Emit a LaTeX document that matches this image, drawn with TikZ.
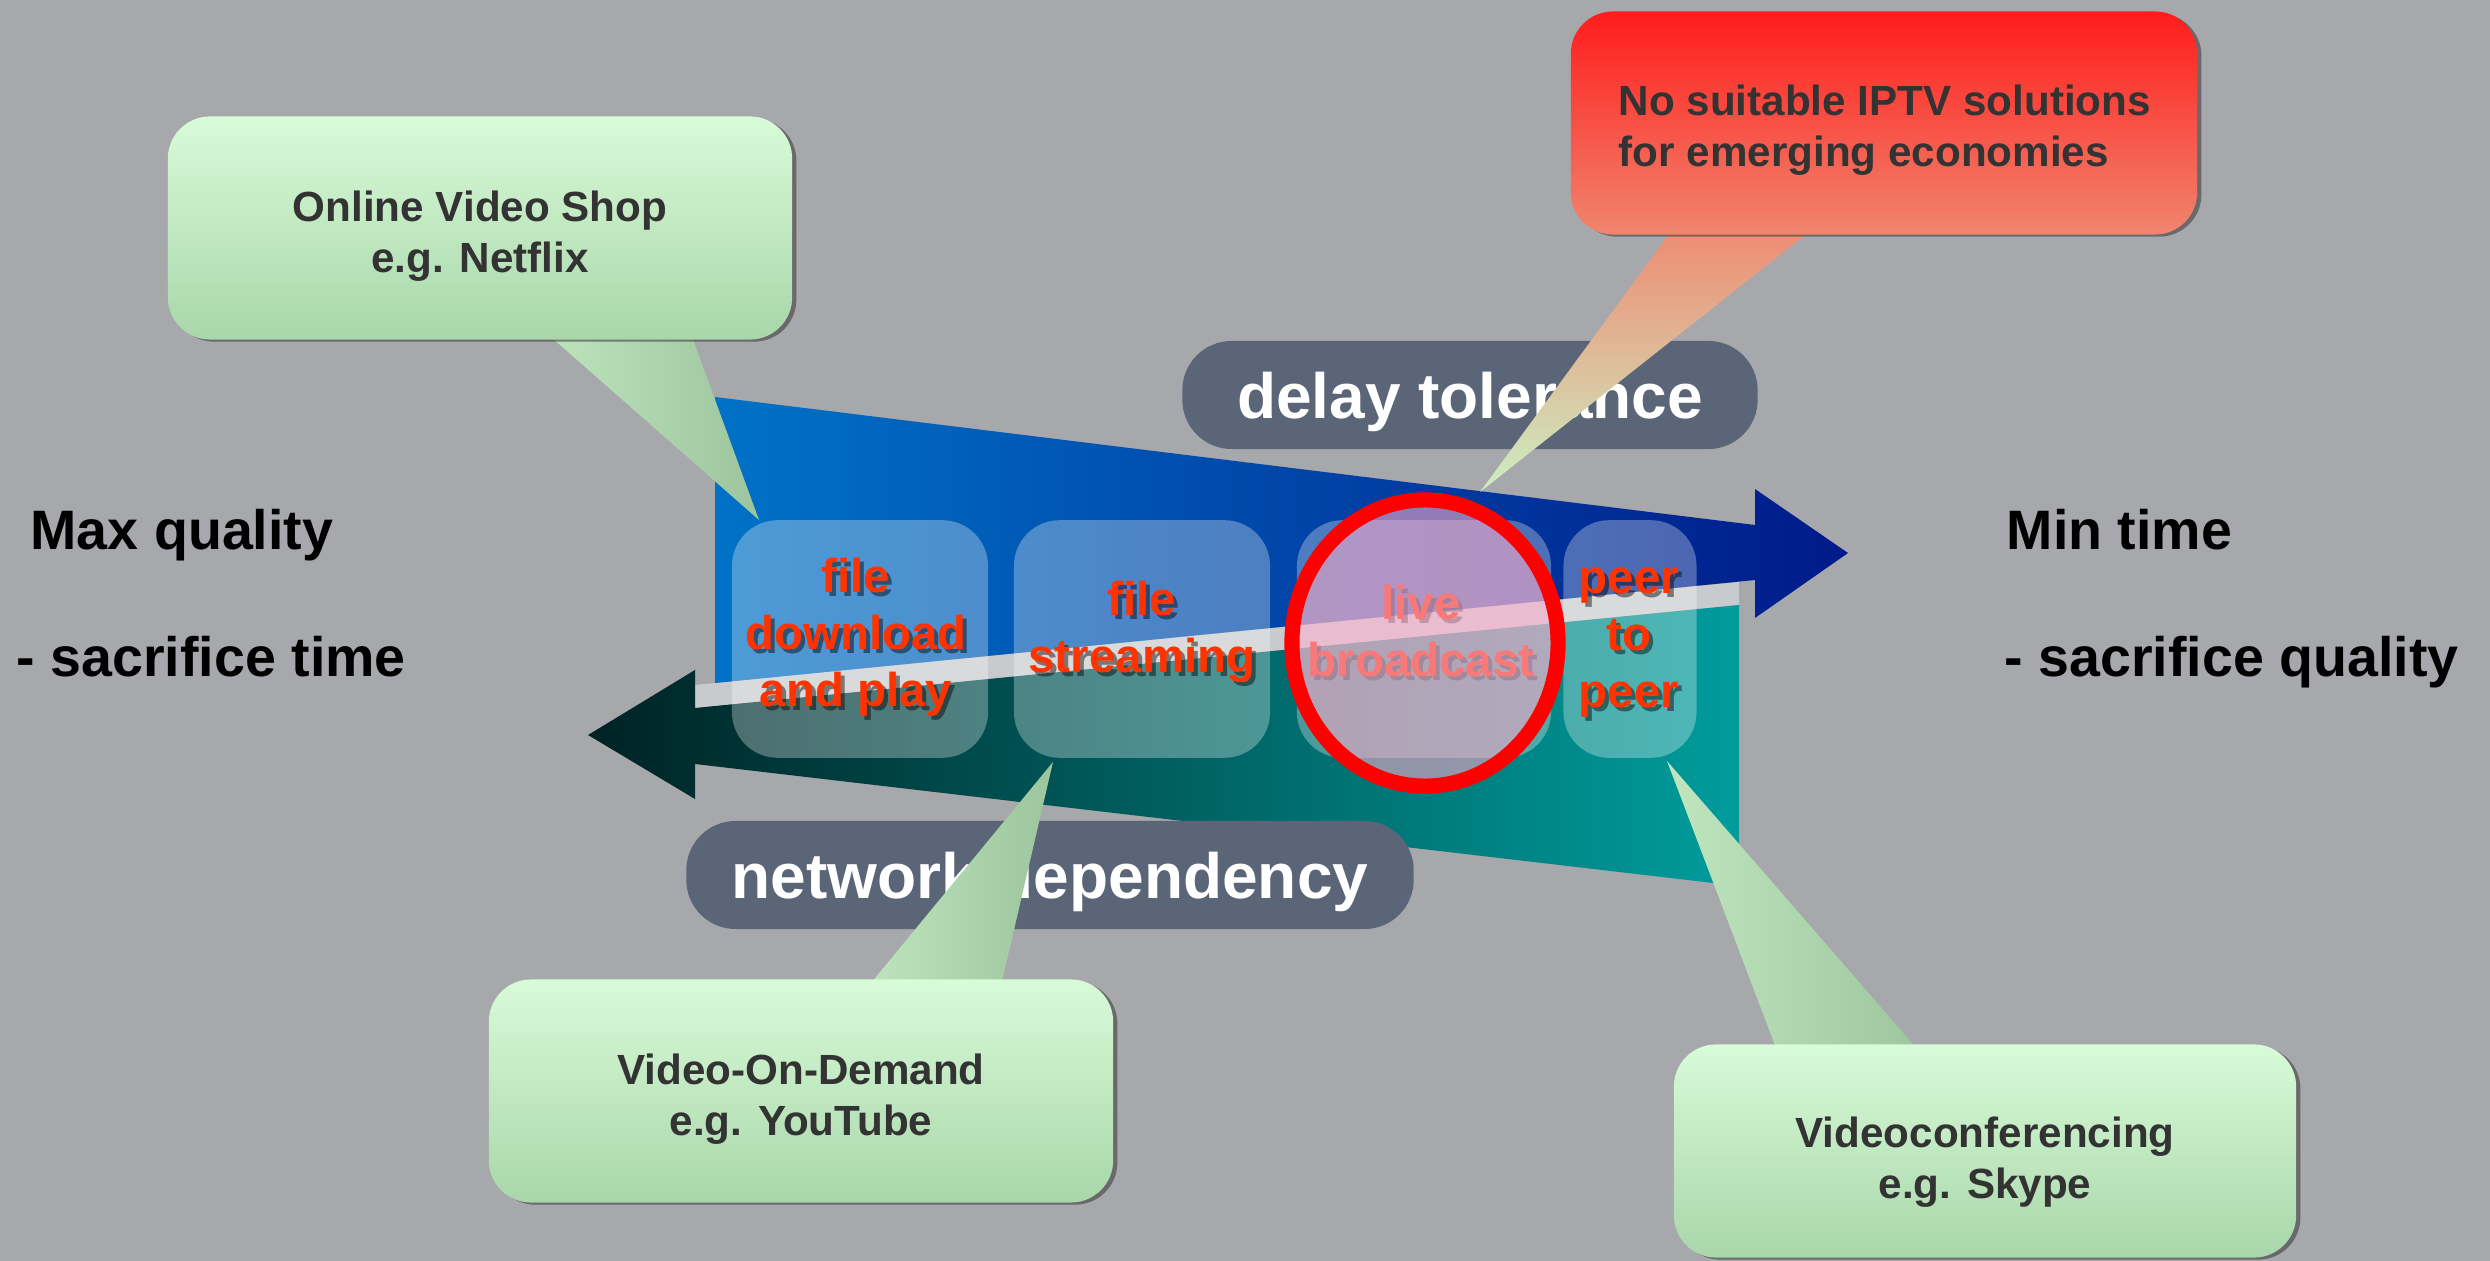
\documentclass[tikz,border=0pt]{standalone}
\usepackage{fontspec}
\setmainfont{Liberation Sans}
\usetikzlibrary{calc}
\usetikzlibrary{shadows}
\usetikzlibrary{backgrounds}

\definecolor{bg}{HTML}{A7A8AC}
\definecolor{blueL}{HTML}{0072C6}
\definecolor{blueR}{HTML}{001A8A}
\definecolor{tealL}{HTML}{002224}
\definecolor{tealR}{HTML}{009C9C}
\definecolor{band}{HTML}{C9CACE}
\definecolor{slate}{HTML}{5A6677}
\definecolor{stagered}{HTML}{FF3300}
\definecolor{ringred}{HTML}{FF0000}
\definecolor{ringfill}{HTML}{F4A8C8}
\definecolor{mintT}{HTML}{D8FBD8}
\definecolor{mintB}{HTML}{A9D6AA}
\definecolor{mintL}{HTML}{BFE6BF}
\definecolor{mintD}{HTML}{9CC49D}
\definecolor{redT}{HTML}{FF1C1C}
\definecolor{redB}{HTML}{F0866E}
\definecolor{peach}{HTML}{F2C6A0}
\definecolor{pale}{HTML}{CCEFC2}
\definecolor{ink}{HTML}{333333}

\pgfdeclarelayer{tips}
\pgfdeclarelayer{bubbles}
\pgfsetlayers{main,tips,bubbles}

\tikzset{side/.style={font=\fontsize{15.8}{19}\selectfont\bfseries, inner sep=0pt, anchor=base west}}
\tikzset{s/.style={font=\fontsize{13.5}{16.2}\selectfont\bfseries, text=stagered, align=center}}
\tikzset{sh/.style={font=\fontsize{13.5}{16.2}\selectfont\bfseries, text=black, text opacity=0.45, align=center}}
\tikzset{stage/.style={fill=white, fill opacity=0.3, rounded corners=13pt, minimum height=2.375cm}}
\tikzset{tag/.style={fill=slate, rounded corners=14pt, minimum height=1.08cm, text=white, text depth=0pt,
    font=\fontsize{18.2}{22}\selectfont\bfseries}}
\tikzset{c/.style={font=\fontsize{12}{14.5}\selectfont\bfseries, text=ink, align=center, inner sep=0pt}}
\tikzset{bubble/.style={top color=mintT, bottom color=mintB, rounded corners=12pt,
    minimum width=6.24cm, minimum height=2.23cm,
    drop shadow={shadow xshift=1.2pt, shadow yshift=-0.6pt, opacity=0.6, fill=black!75}}}
\tikzset{alert/.style={top color=redT, bottom color=redB, rounded corners=12pt,
    minimum width=6.26cm, minimum height=2.23cm,
    drop shadow={shadow xshift=1.2pt, shadow yshift=-0.6pt, opacity=0.6, fill=black!75}}}
\tikzset{tip/.style={left color=mintL, middle color=mintT, right color=mintD}}

\begin{document}
\begin{tikzpicture}[x=0.01cm, y=-0.01cm]
  \useasboundingbox (0,0) rectangle (2490,1261);
  \fill[bg] (0,0) rectangle (2490,1261);

  % the two arrows
  \fill[band] (695,685) -- (1739,582) -- (1739,605) -- (695,708) -- cycle;
  \shade[left color=blueL, right color=blueR] (715,397) -- (1755,525) -- (1755,489)
    -- (1848,553) -- (1755,618) -- (1755,580) -- (715,683) -- cycle;
  \shade[left color=tealL, right color=tealR] (588,735) -- (695,670) -- (695,708)
    -- (1739,605) -- (1739,886) -- (695,764) -- (695,799) -- cycle;

  % stages
  \node[stage, minimum width=2.56cm] (s1) at (860,639) {};
  \node[stage, minimum width=2.56cm] (s2) at (1142,639) {};
  \node[stage, minimum width=2.54cm] (s3) at (1424,639) {};
  \node[stage, minimum width=1.33cm] (s4) at (1630,639) {};
  \node[sh] at (860,641) {file\\download\\and play};
  \node[s] (t1) at (856,637) {file\\download\\and play};
  \node[sh] at (1146,636) {file\\streaming};
  \node[s] (t2) at (1142,632) {file\\streaming};
  \node[sh] at (1425,635) {live\\broadcast};
  \node[s] (t3) at (1421,631) {live\\broadcast};
  \node[sh] at (1633,647) {peer\\to\\peer};
  \node[s] (t4) at (1629,643) {peer\\to\\peer};

  \draw[ringred, line width=4.3pt, fill=ringfill, fill opacity=0.6] (1425,643)
    ellipse [x radius=1.33cm, y radius=1.43cm];

  \node[tag, minimum width=5.75cm] (delay) at (1470,395) {delay tolerance};
  \node[tag, minimum width=7.27cm] (netdep) at (1050,875) {network dependency};

  \node[side] (maxq) at (30,550) {Max quality};
  \node[side] (sact) at (16,676) {- sacrifice time};
  \node[side] (mint) at (2006,550) {Min time};
  \node[side] (sacq) at (2004,676) {- sacrifice quality};

  % callouts
  \begin{pgfonlayer}{bubbles}
    \node[bubble] (shop) at (480,228) {};
    \node[c] (shoptxt) at (480,236) {Online Video Shop\\e.g. Netflix};
    \node[bubble] (vod) at (801,1091) {};
    \node[c] (vodtxt) at (801,1099) {Video-On-Demand\\e.g. YouTube};
    \node[bubble, minimum width=6.22cm, minimum height=2.13cm] (conf) at (1985,1151) {};
    \node[c] (conftxt) at (1985,1162) {Videoconferencing\\e.g. Skype};
    \node[alert] (iptv) at (1884,123) {};
    \node[c, align=left, anchor=west] (iptvtxt) at (1618,130)
      {No suitable IPTV solutions\\for emerging economies};
  \end{pgfonlayer}
  \coordinate (shoptip) at (759,520);
  \coordinate (vodtip) at (1053,762);
  \coordinate (conftip) at (1667,761);
  \coordinate (iptvtip) at (1480,492);
  \begin{pgfonlayer}{tips}
    \shade[tip] ($(shop.south)+(52,-20)$) -- (shoptip) -- ($(shop.south)+(206,-20)$) -- cycle;
    \shade[tip] ($(vod.north)+(57,20)$) -- (vodtip) -- ($(vod.north)+(197,20)$) -- cycle;
    \shade[tip] ($(conf.north)+(-203,20)$) -- (conftip) -- ($(conf.north)+(-55,20)$) -- cycle;
    \shade[top color=redB, middle color=peach, bottom color=pale]
      ($(iptv.south)+(-201,-20)$) -- (iptvtip) -- ($(iptv.south)+(-54,-20)$) -- cycle;
  \end{pgfonlayer}
\end{tikzpicture}
\end{document}
